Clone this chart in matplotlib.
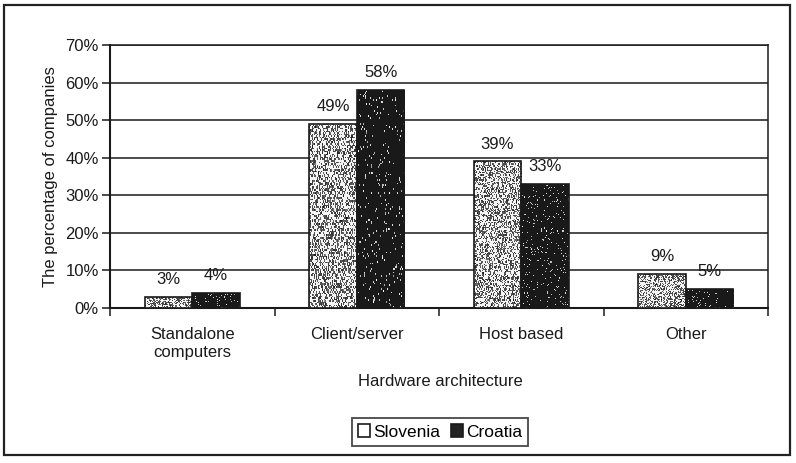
import numpy as np
import matplotlib
matplotlib.use("Agg")
import matplotlib.pyplot as plt
from matplotlib.patches import Rectangle

plt.rcParams['font.family'] = ['Liberation Sans', 'DejaVu Sans']

categories = ["Standalone\ncomputers", "Client/server", "Host based", "Other"]
slovenia = [3, 49, 39, 9]
croatia = [4, 58, 33, 5]
series_names = ["Slovenia", "Croatia"]
y_ticks = [0, 10, 20, 30, 40, 50, 60, 70]

W, H = 796, 463
FS = 12
INK = "#1a1a1a"
fig = plt.figure(figsize=(W / 100, H / 100), dpi=100)
fig.patch.set_facecolor("white")

# outer chart frame
fig.patches.append(Rectangle((4 / W, 1 - 455 / H), 786 / W, 450 / H,
                             transform=fig.transFigure, fill=False,
                             edgecolor="#222222", linewidth=1.6))

ax = fig.add_axes([110 / W, 1 - 308 / H, 658 / W, 263 / H])
ax.set_xlim(-0.5, len(categories) - 0.5)
ax.set_ylim(0, 70)

rng = np.random.default_rng(7)


def stipple(base, speck, density, shape=(120, 60)):
    img = np.full(shape, base, dtype=float)
    mask = rng.random(shape) < density
    img[mask] = speck + rng.normal(0, 0.08, mask.sum())
    return np.clip(img, 0, 1)


width = 0.29
x = np.arange(len(categories))
bars_s = ax.bar(x - width / 2, slovenia, width, facecolor="none",
                edgecolor=INK, linewidth=1.2, zorder=4)
bars_c = ax.bar(x + width / 2, croatia, width, facecolor="none",
                edgecolor=INK, linewidth=1.2, zorder=4)

for bars, (base, speck, dens) in ((bars_s, (0.96, 0.3, 0.45)),
                                  (bars_c, (0.1, 0.8, 0.05))):
    for b in bars:
        x0, y0 = b.get_x(), b.get_y()
        w, h = b.get_width(), b.get_height()
        im = ax.imshow(stipple(base, speck, dens), cmap="gray", vmin=0, vmax=1,
                       extent=(x0, x0 + w, y0, y0 + h), aspect="auto",
                       interpolation="nearest", zorder=3)
        im.set_clip_path(b)

for bars, vals in ((bars_s, slovenia), (bars_c, croatia)):
    for b, v in zip(bars, vals):
        ax.annotate(f"{v}%", (b.get_x() + b.get_width() / 2, v),
                    xytext=(0, 7), textcoords="offset points",
                    ha="center", va="bottom", fontsize=FS, color=INK,
                    zorder=6)

ax.set_yticks(y_ticks)
ax.set_yticklabels([f"{t}%" for t in y_ticks], fontsize=FS, color=INK)
ax.yaxis.grid(True, color=INK, linewidth=1.1)
ax.set_axisbelow(True)
ax.tick_params(axis="y", direction="out", length=6, width=1.1, pad=2,
               color=INK)

ax.set_xticks(np.arange(len(categories) + 1) - 0.5)
ax.set_xticklabels([])
ax.set_xticks(x, minor=True)
ax.set_xticklabels(categories, minor=True, fontsize=FS, color=INK)
ax.tick_params(axis="x", which="major", direction="out", length=6, width=1.1,
               color=INK)
ax.tick_params(axis="x", which="minor", length=0, pad=14)

for s in ax.spines.values():
    s.set_color(INK)
    s.set_linewidth(1.1)
ax.spines["left"].set_linewidth(1.5)
ax.spines["bottom"].set_linewidth(1.5)

ax.set_ylabel("The percentage of companies", fontsize=FS, color=INK,
              labelpad=5)
fig.text(440 / W, 1 - 382 / H, "Hardware architecture", ha="center",
         va="center", fontsize=FS, color=INK)

handles = [Rectangle((0, 0), 1, 1, facecolor="white", edgecolor=INK,
                     linewidth=1.2),
           Rectangle((0, 0), 1, 1, facecolor="#222222", edgecolor=INK,
                     linewidth=1.2)]
leg = fig.legend(handles, series_names, loc="center",
                 bbox_to_anchor=(440 / W, 1 - 432 / H), ncol=2, fontsize=12.5,
                 frameon=True, fancybox=False, handlelength=0.7,
                 handleheight=0.7, handletextpad=0.2, columnspacing=0.6,
                 borderpad=0.35)
leg.get_frame().set_edgecolor(INK)
leg.get_frame().set_linewidth(1.3)

fig.savefig("out.png", dpi=100, facecolor="white")
